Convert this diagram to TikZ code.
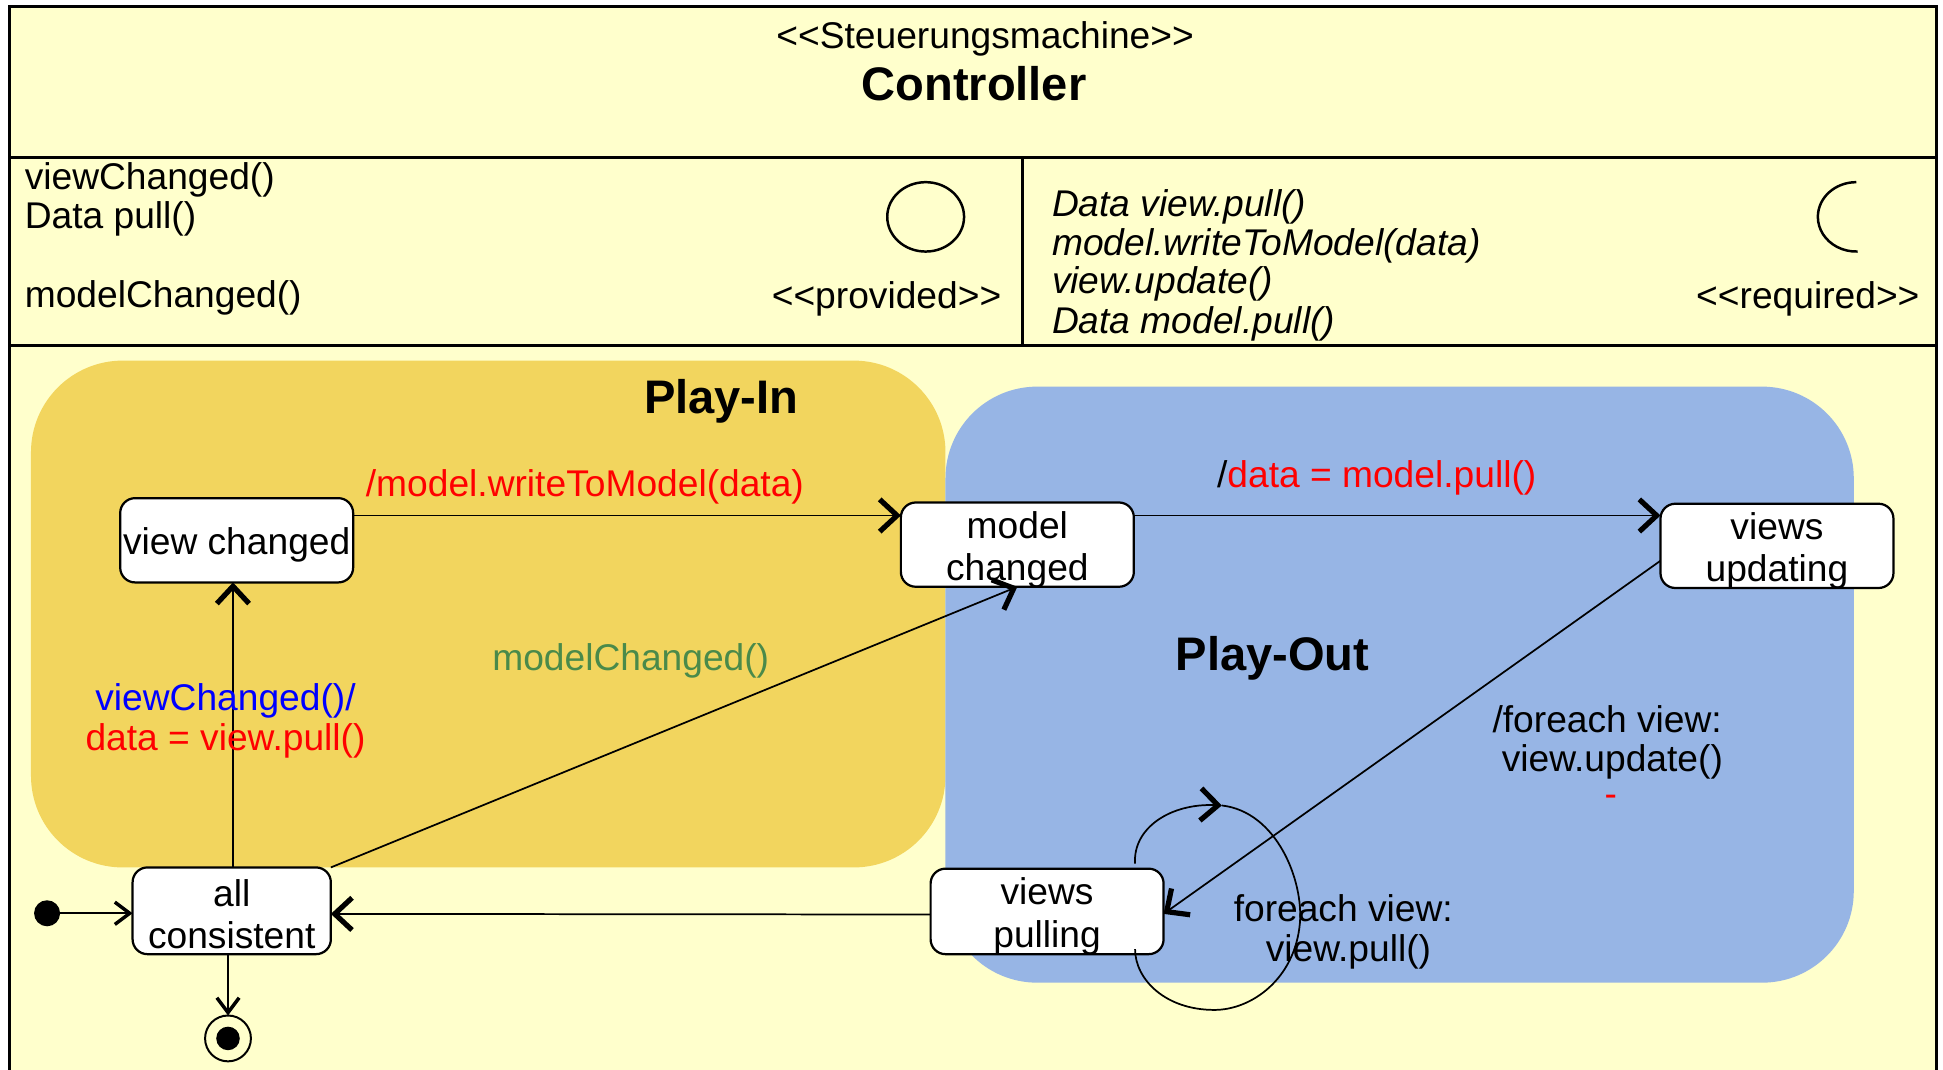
\documentclass[tikz,border=0pt]{standalone}
\usepackage{fontspec}
\setmainfont{Liberation Sans}
\usetikzlibrary{arrows.meta}
\definecolor{bgyel}{HTML}{FFFFCC}
\definecolor{playin}{HTML}{F2D55E}
\definecolor{playout}{HTML}{97B5E5}
\definecolor{grn}{HTML}{4A8A4A}
\begin{document}
\begin{tikzpicture}[x=1pt,y=-1pt,
  every node/.style={inner sep=0pt, outer sep=0pt},
  txt/.style={font=\fontsize{30}{31}\selectfont},
  lbl/.style={font=\fontsize{30}{32}\selectfont, align=center},
  bigb/.style={font=\fontsize{38}{40}\selectfont\bfseries},
  state/.style={draw, fill=white, line width=1.8pt, rounded corners=12pt,
    minimum width=188pt, minimum height=68pt},
  stxt/.style={align=center, font=\fontsize{30}{34}\selectfont},
  arr/.style={line width=1.4pt, -{Straight Barb[length=14pt,width=26pt,line width=4.2pt]}},
  sarr/.style={line width=1.4pt, -{Straight Barb[length=12pt,width=18pt,line width=2.8pt]}},
  region/.style={rounded corners=74pt}
]
\useasboundingbox (0,0) rectangle (1568,863);
\fill[white] (0,0) rectangle (1568,863);
% frame
\fill[bgyel] (8,5) rectangle (1563,900);
% regions
\fill[playin, region] (25,291) rectangle (763,700);
\fill[playout, region] (763,312) rectangle (1496,793);
\draw[line width=2.5pt] (8,5) rectangle (1563,900);
\draw[line width=2.5pt] (8,127) -- (1563,127);
\draw[line width=2.5pt] (8,279) -- (1563,279);
\draw[line width=2pt] (825,127) -- (825,279);

% header
\node[txt, anchor=base] (stereo) at (795,39) {<{}<Steuerungsmachine>{}>};
\node[bigb, anchor=base] (title) at (786,81) {Controller};

% provided compartment
\node[txt, anchor=base west] (p1) at (20,153) {viewChanged()};
\node[txt, anchor=base west] (p2) at (20,184) {Data pull()};
\node[txt, anchor=base west] (p3) at (20,248) {modelChanged()};
\draw[line width=2pt] (747,175) ellipse [x radius=31, y radius=28];
\node[txt, anchor=base east] (prov) at (808,249) {<{}<provided>{}>};

% required compartment
\node[txt, anchor=base west, font=\fontsize{30}{31}\selectfont\itshape] (r1) at (849,175) {Data view.pull()};
\node[txt, anchor=base west, font=\fontsize{30}{31}\selectfont\itshape] (r2) at (849,206) {model.writeToModel(data)};
\node[txt, anchor=base west, font=\fontsize{30}{31}\selectfont\itshape] (r3) at (849,237) {view.update()};
\node[txt, anchor=base west, font=\fontsize{30}{31}\selectfont\itshape] (r4) at (849,269) {Data model.pull()};
\draw[line width=2pt] (1498,147) arc[start angle=270, end angle=88, x radius=31, y radius=28];
\node[txt, anchor=base east] (req) at (1549,249) {<{}<required>{}>};

% region titles
\node[bigb, anchor=base] (pin) at (582,334) {Play-In};
\node[bigb, anchor=base] (pout) at (1027,541) {Play-Out};

% states
\node[state] (vc) at (191,436) {};
\node[state] (mc) at (821,439.5) {};
\node[state] (vu) at (1434,440.5) {};
\node[state, minimum width=160pt, minimum height=70pt] (ac) at (187,735) {};
\node[state, minimum height=69pt] (vp) at (845,735.5) {};
\node[stxt] (vct) at ([yshift=-4pt]vc.center) {view changed};
\node[stxt] (mct) at ([yshift=-4pt]mc.center) {model\\changed};
\node[stxt] (vut) at ([yshift=-4pt]vu.center) {views\\updating};
\node[stxt] (act) at ([yshift=-3pt]ac.center) {all\\consistent};
\node[stxt] (vpt) at ([yshift=-4pt]vp.center) {views\\pulling};

% initial / final
\node[circle, fill=black, minimum size=21pt] (init) at (38,737) {};
\node[circle, draw, line width=1.6pt, fill=bgyel, minimum size=37pt] (fin) at (184,838) {};
\node[circle, fill=black, minimum size=19pt] (finin) at (184,838) {};

% transitions
\draw[sarr] (init) -- (ac.west |- init);
\draw[sarr] (ac.south -| fin.north) -- (fin.north);
\draw[arr] ([yshift=20pt]vc.east) -- ([yshift=23.5pt]mc.west);
\draw[arr] ([yshift=23.5pt]mc.east) -- ([yshift=24.5pt]vu.west);
\draw[arr] ([xshift=1pt]ac.north) -- ([xshift=1pt]ac.north |- vc.south);
\draw[arr] (ac.north east) -- (mc.south);
\draw[arr] ([yshift=-12pt]vu.west) -- ([yshift=-2pt]vp.east);
\draw[arr] ([yshift=-2.5pt]vp.west) -- ([yshift=-2.5pt]ac.east);
% self loop
\coordinate (ls) at (916,697);
\coordinate (lt) at (986,650);
\coordinate (le) at (916,766);
\draw[arr] (ls) .. controls (914,668) and (945,648) .. (lt);
\draw[line width=1.4pt] (lt) .. controls (1030,655) and (1052,710) .. (1049,745)
  .. controls (1045,790) and (1010,815) .. (980,815)
  .. controls (940,815) and (916,790) .. (le);

% labels
\node[lbl, text=red] (l1) at (472,393) {/model.writeToModel(data)};
\node[lbl] (l2) at (1111,386) {/\textcolor{red}{data = model.pull()}};
\node[lbl] (l3) at (182,582) {\textcolor{blue}{viewChanged()/}\\\textcolor{red}{data = view.pull()}};
\node[lbl, text=grn] (l4) at (509,533) {modelChanged()};
\node[lbl] (l5) at (1297,599) {/foreach view:\\\ view.update()};
\node[lbl, text=red] (l6) at (1300,646) {-};
\node[lbl] (l7) at (1084,752) {foreach view:\\\ view.pull()};
\end{tikzpicture}
\end{document}
